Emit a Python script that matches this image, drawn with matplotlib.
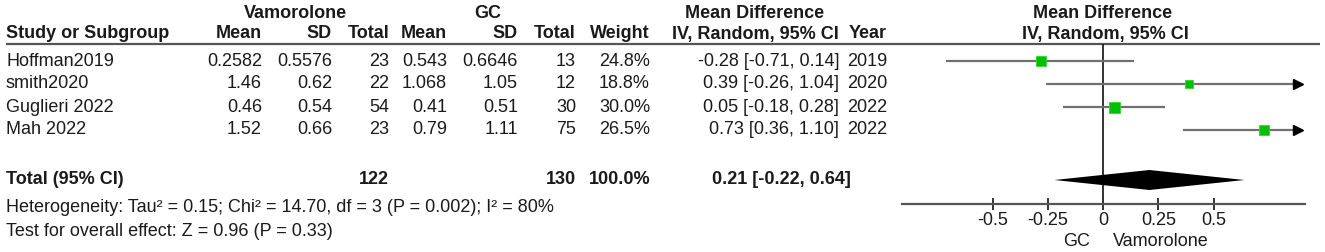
import matplotlib.pyplot as plt
import numpy as np

plt.rcParams['font.family'] = ['Liberation Sans', 'DejaVu Sans']

# Study data
studies = ["Hoffman2019", "smith2020", "Guglieri 2022", "Mah 2022"]
vam_mean = ["0.2582", "1.46", "0.46", "1.52"]
vam_sd = ["0.5576", "0.62", "0.54", "0.66"]
vam_n = [23, 22, 54, 23]
gc_mean = ["0.543", "1.068", "0.41", "0.79"]
gc_sd = ["0.6646", "1.05", "0.51", "1.11"]
gc_n = [13, 12, 30, 75]
weight = [24.8, 18.8, 30.0, 26.5]
md = [-0.28, 0.39, 0.05, 0.73]
md_lo = [-0.71, -0.26, -0.18, 0.36]
md_hi = [0.14, 1.04, 0.28, 1.10]
years = [2019, 2020, 2022, 2022]

# Pooled
tot_vam = 122
tot_gc = 130
tot_md, tot_lo, tot_hi = 0.21, -0.22, 0.64
het_text = "Heterogeneity: Tau\u00b2 = 0.15; Chi\u00b2 = 14.70, df = 3 (P = 0.002); I\u00b2 = 80%"
eff_text = "Test for overall effect: Z = 0.96 (P = 0.33)"

ticks = [-0.5, -0.25, 0, 0.25, 0.5]
tick_labels = ["-0.5", "-0.25", "0", "0.25", "0.5"]

W, H = 1325, 252
fig = plt.figure(figsize=(W / 100, H / 100), dpi=100)

# table area in pixel coordinates
tab = fig.add_axes([0, 0, 1, 1])
tab.set_xlim(0, W)
tab.set_ylim(H, 0)
tab.axis('off')

fs = 13
tc = '#1a1a1a'

def txt(x, y, s, ha='right', bold=False):
    tab.text(x, y, s, ha=ha, va='center', fontsize=fs, color=tc,
             fontweight='bold' if bold else 'normal')

# column right edges (pixels)
c_vm, c_vs, c_vn = 262, 332, 389
c_gm, c_gs, c_gn = 447, 518, 576
c_w, c_ci, c_yr = 650, 839, 887

# headers
txt(295, 13, "Vamorolone", ha='center', bold=True)
txt(488, 13, "GC", ha='center', bold=True)
txt(755, 13, "Mean Difference", ha='center', bold=True)
txt(1103, 13, "Mean Difference", ha='center', bold=True)
hdr = [(6, "Study or Subgroup", 'left'), (c_vm, "Mean", 'right'), (c_vs, "SD", 'right'),
       (c_vn, "Total", 'right'), (c_gm, "Mean", 'right'), (c_gs, "SD", 'right'),
       (c_gn, "Total", 'right'), (c_w, "Weight", 'right'),
       (755, "IV, Random, 95% CI", 'center'), (c_yr, "Year", 'right'),
       (1105, "IV, Random, 95% CI", 'center')]
for x, s, ha in hdr:
    txt(x, 34, s, ha=ha, bold=True)
tab.plot([6, 1320], [44, 44], color='#555555', lw=1.6, solid_capstyle='butt')

row_y = 61 + 23 * np.arange(len(studies))
for i, y in enumerate(row_y):
    txt(6, y, studies[i], ha='left')
    txt(c_vm, y, vam_mean[i])
    txt(c_vs, y, vam_sd[i])
    txt(c_vn, y, str(vam_n[i]))
    txt(c_gm, y, gc_mean[i])
    txt(c_gs, y, gc_sd[i])
    txt(c_gn, y, str(gc_n[i]))
    txt(c_w, y, f"{weight[i]:.1f}%")
    txt(c_ci, y, f"{md[i]:.2f} [{md_lo[i]:.2f}, {md_hi[i]:.2f}]")
    txt(c_yr, y, str(years[i]))

tot_y = 180
txt(6, tot_y, "Total (95% CI)", ha='left', bold=True)
txt(c_vn, tot_y, str(tot_vam), bold=True)
txt(c_gn, tot_y, str(tot_gc), bold=True)
txt(c_w, tot_y, "100.0%", bold=True)
txt(c_ci + 12, tot_y, f"{tot_md:.2f} [{tot_lo:.2f}, {tot_hi:.2f}]", bold=True)
txt(6, 208, het_text, ha='left')
txt(6, 231, eff_text, ha='left')
txt(1090, 241, "GC", ha='right')
txt(1113, 241, "Vamorolone", ha='left')

# forest plot
x0, x1 = 902, 1305
ytop, ybot = 44, 204
fx = fig.add_axes([x0 / W, (H - ybot) / H, (x1 - x0) / W, (ybot - ytop) / H])
scale = 221.0
xl, xr = -(1103 - x0) / scale, (x1 - 1103) / scale
fx.set_xlim(xl, xr)
fx.set_ylim(ybot, ytop)
fx.patch.set_alpha(0)
for s in ['top', 'left', 'right']:
    fx.spines[s].set_visible(False)
fx.spines['bottom'].set_color('#555555')
fx.spines['bottom'].set_linewidth(1.6)
fx.set_yticks([])
fx.set_xticks(ticks)
fx.set_xticklabels(tick_labels, fontsize=fs, color=tc)
fx.tick_params(axis='x', direction='inout', length=9, width=1.4, color='#333333', pad=1)

fx.axvline(0, color='#222222', lw=1.3, zorder=1)

arrow_x = xr - 0.03
for i, y in enumerate(row_y):
    hi = min(md_hi[i], arrow_x)
    fx.plot([md_lo[i], hi], [y, y], color='#707070', lw=1.6, zorder=2,
            solid_capstyle='butt')
    if md_hi[i] > arrow_x:
        fx.plot(arrow_x, y, marker='>', color='black', markersize=7, zorder=3)
    # box side in px grows with weight
    side = (0.3 * weight[i] + 2) * 0.72
    fx.plot(md[i], y, marker='s', markersize=side, color='#00c000',
            markeredgecolor='#30d830', markeredgewidth=0.6, zorder=4)

fx.fill([tot_lo, tot_md, tot_hi, tot_md], [tot_y, tot_y - 10, tot_y, tot_y + 10],
        color='black', zorder=5, lw=0)

fig.savefig('out.png', dpi=100)
